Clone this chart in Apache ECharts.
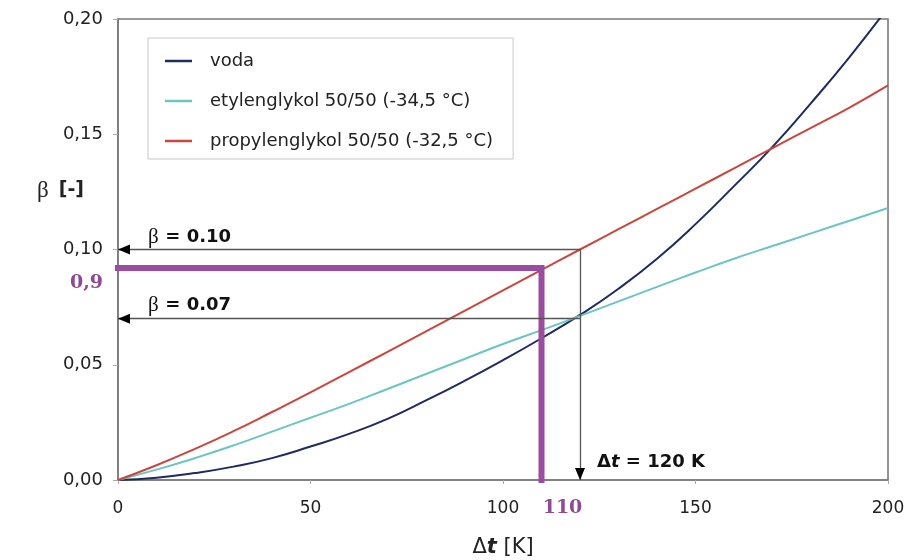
<!DOCTYPE html>
<html>
<head>
<meta charset="utf-8">
<script src="https://cdn.jsdelivr.net/npm/echarts@6/dist/echarts.min.js"></script>
<style>html,body{margin:0;padding:0;background:#fff}#c{width:907px;height:560px}</style>
</head>
<body>
<div id="c"></div>
<script>
// ---- data ----
const dtValues = [0,10,20,30,40,50,60,70,80,90,100,110,120,130,140,150,160,170,180,190,200];
const vodaBeta = [0,0.001,0.003,0.0058,0.0095,0.0145,0.020,0.0265,0.0345,0.043,0.052,0.0615,0.0716,0.083,0.096,0.111,0.1275,0.1445,0.1635,0.1835,0.205];
const etylBeta = [0,0.0045,0.0095,0.015,0.021,0.027,0.033,0.0395,0.046,0.0525,0.059,0.065,0.0712,0.0775,0.0838,0.090,0.096,0.1015,0.107,0.1125,0.118];
const propBeta = [0,0.0064,0.0135,0.0212,0.0295,0.038,0.0468,0.0556,0.0645,0.0734,0.0823,0.0912,0.100,0.1088,0.1176,0.1264,0.1352,0.144,0.1528,0.1616,0.1712];
const seriesNames = ['voda','etylenglykol 50/50 (-34,5 °C)','propylenglykol 50/50 (-32,5 °C)'];
const seriesColors = ['#1f2a5e','#6cc5c1','#c9463d'];
const xTicks = {min:0, max:200, interval:50};
const yTicks = {min:0, max:0.20, interval:0.05};
const betaHigh = 0.10, betaLow = 0.07, dtMark = 120;
const purpleBeta = 0.092, purpleDt = 110;
const purpleYLabel = '0,9', purpleXLabel = '110';

const FONT = "'DejaVu Sans', 'Liberation Sans', Arial, sans-serif";
const SERIF = "'DejaVu Serif', 'Liberation Serif', serif";
const TSERIF = "'Liberation Serif', 'Times New Roman', serif";
const toPairs = v => dtValues.map((x,i)=>[x, v[i]]);

const chart = echarts.init(document.getElementById('c'), null, {renderer:'canvas'});
const annLine = {color:'#555', width:1.3, type:'solid'};
const textPt = (coord, fmt, pos, align) => ({
  coord, symbol:'rect', symbolSize:0,
  label:{show:true, position:pos, align:align, verticalAlign:'middle', formatter:fmt,
    rich:{
      b:{fontFamily:TSERIF, fontSize:21, color:'#111'},
      t:{fontFamily:FONT, fontSize:18, fontWeight:'bold', color:'#111'},
      ti:{fontFamily:FONT, fontSize:18, fontWeight:'bold', fontStyle:'italic', color:'#111'},
      p:{fontFamily:SERIF, fontSize:19, fontWeight:'bold', color:'#8e4a96'}
    }}
});
const arrowPt = (coord, rot, off) => ({
  coord, symbol:'triangle', symbolSize:[10,12], symbolRotate:rot, symbolOffset:off,
  itemStyle:{color:'#000'}, label:{show:false}
});

chart.setOption({
  animation:false,
  backgroundColor:'#fff',
  grid:{left:118, right:19, top:19, bottom:80, show:true, borderColor:'#7a7a7a', borderWidth:1.6,
    containLabel:false, outerBoundsMode:'none'},
  legend:{
    data:seriesNames.map(n=>({name:n, icon:'rect'})), orient:'vertical', left:148, top:38,
    itemWidth:27, itemHeight:2.5, itemGap:22,
    padding:[14,20,9,17], borderColor:'#c8c8c8', borderWidth:1, backgroundColor:'#fff',
    textStyle:{fontFamily:FONT, fontSize:18, color:'#222', padding:[0,0,0,13]}
  },
  xAxis:{
    type:'value', min:xTicks.min, max:xTicks.max, interval:xTicks.interval,
    name:'{d|Δ}{ti|t}  {t|[K]}', nameLocation:'middle', nameGap:57,
    nameTextStyle:{rich:{
      d:{fontFamily:FONT, fontSize:21, color:'#222'},
      ti:{fontFamily:FONT, fontSize:21, fontStyle:'italic', fontWeight:'bold', color:'#222'},
      t:{fontFamily:FONT, fontSize:21, color:'#222'}}},
    axisLine:{show:true, lineStyle:{color:'#7a7a7a', width:1.6}},
    axisTick:{show:true, length:4, lineStyle:{color:'#aaa'}},
    axisLabel:{fontFamily:FONT, fontSize:17, color:'#222', margin:20},
    splitLine:{show:false}
  },
  yAxis:{
    type:'value', min:yTicks.min, max:yTicks.max, interval:yTicks.interval,
    axisLine:{show:true, lineStyle:{color:'#7a7a7a', width:1.6}},
    axisTick:{show:true, length:5, lineStyle:{color:'#aaa'}},
    axisLabel:{fontFamily:FONT, fontSize:18, color:'#222', margin:15,
      formatter:v=>v.toFixed(2).replace('.', ',')},
    splitLine:{show:false}
  },
  graphic:[{type:'text', left:37, top:179, style:{
    text:'{b|β}   {t|[-]}', rich:{
      b:{fontFamily:TSERIF, fontSize:23, fill:'#222'},
      t:{fontFamily:FONT, fontSize:19, fontWeight:'bold', fill:'#222'}}}}],
  series:[
    {name:'annot', type:'line', data:[], silent:true,
      markLine:{silent:true, symbol:'none', label:{show:false}, lineStyle:annLine, animation:false,
        data:[
          [{coord:[0,betaHigh]},{coord:[dtMark,betaHigh]}],
          [{coord:[0,betaLow]},{coord:[dtMark,betaLow]}],
          [{coord:[dtMark,betaHigh]},{coord:[dtMark,0]}]
        ]},
      markPoint:{silent:true, animation:false, data:[
        arrowPt([0,betaHigh], 90, [6,0]),
        arrowPt([0,betaLow], 90, [6,0]),
        arrowPt([dtMark,0], 180, [0,-6]),
        textPt([0,betaHigh], '{b|β}  {t|= 0.10}', [30,-12], 'left'),
        textPt([0,betaLow], '{b|β}  {t|= 0.07}', [30,-13], 'left'),
        textPt([dtMark,0], '{t|Δ}{ti|t}{t| = 120 K}', [17,-18], 'left'),
      ]}
    },
    ...seriesNames.map((n,i)=>({
      name:n, type:'line', data:toPairs([vodaBeta,etylBeta,propBeta][i]), smooth:true, symbol:'none',
      lineStyle:{color:seriesColors[i], width:2}, itemStyle:{color:seriesColors[i]}
    })),
    {name:'purple', type:'line', clip:false, symbol:'none', silent:true,
      data:[[0,purpleBeta],[purpleDt,purpleBeta],[purpleDt,0]],
      lineStyle:{color:'#9a4c9e', width:6, cap:'square', join:'miter'},
      markPoint:{silent:true, animation:false, data:[
        textPt([0,purpleBeta], '{p|'+purpleYLabel+'}', [-15,15], 'right'),
        textPt([purpleDt,0], '{p|'+purpleXLabel+'}', [21,28], 'center')
      ]}
    }
  ]
});
</script>
</body>
</html>
